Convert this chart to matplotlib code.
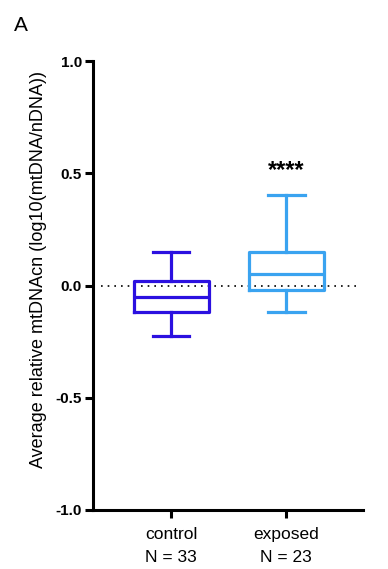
import matplotlib
matplotlib.use("Agg")
import matplotlib.pyplot as plt

plt.rcParams['font.family'] = ['Liberation Sans', 'DejaVu Sans']

groups = ['control', 'exposed']
counts = [33, 23]
whislo = [-0.227, -0.12]
q1 = [-0.12, -0.018]
medians = [-0.053, 0.053]
q3 = [0.018, 0.151]
whishi = [0.151, 0.404]
colors = ['#2b10e0', '#3aa3f0']
sig_label = '****'

stats = []
for i, g in enumerate(groups):
    stats.append(dict(label=g, whislo=whislo[i], q1=q1[i], med=medians[i],
                      q3=q3[i], whishi=whishi[i], fliers=[]))

fig = plt.figure(figsize=(3.88, 5.69), dpi=100)
ax = fig.add_axes([0.240, 0.1037, 0.696, 0.789])

ax.axhline(0, xmin=0.03, xmax=0.985, color='black', ls=(0, (1, 3)), lw=1.2, zorder=1)

for i, s in enumerate(stats):
    c = colors[i]
    ax.bxp([s], positions=[i + 1], widths=0.652, capwidths=0.32, showfliers=False,
           boxprops=dict(color=c, lw=2.3),
           whiskerprops=dict(color=c, lw=2.3),
           capprops=dict(color=c, lw=2.3),
           medianprops=dict(color=c, lw=2.3))

ax.text(2, 0.512, sig_label, ha='center', va='center', fontsize=17, fontweight='bold')

ax.set_xlim(0.322, 2.67)
ax.set_ylim(-1.0, 1.0)
ax.set_yticks([-1.0, -0.5, 0.0, 0.5, 1.0])
ax.set_yticklabels(['-1.0', '-0.5', '0.0', '0.5', '1.0'], fontweight='bold', fontsize=11)
ax.set_xticks([1, 2])
ax.set_xticklabels([f'{g}\nN = {n}' for g, n in zip(groups, counts)], fontsize=12.5, linespacing=1.7)

ax.spines['top'].set_visible(False)
ax.spines['right'].set_visible(False)
ax.spines['left'].set_linewidth(2.2)
ax.spines['bottom'].set_linewidth(2.2)
ax.tick_params(axis='both', width=2.2, length=6, pad=2)
ax.tick_params(axis='x', pad=6)

ax.set_ylabel('Average relative mtDNAcn (log10(mtDNA/nDNA))', fontsize=13)
ax.yaxis.set_label_coords(-0.17, 0.535)
fig.text(0.035, 0.955, 'A', fontsize=15, ha='left', va='center')

fig.savefig('out.png', dpi=100)
